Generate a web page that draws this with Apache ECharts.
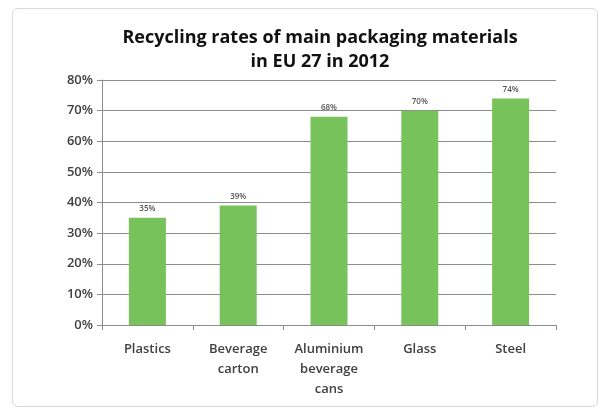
<!DOCTYPE html>
<html>
<head>
<meta charset="utf-8">
<script src="https://cdn.jsdelivr.net/npm/echarts@6/dist/echarts.min.js"></script>
<style>
  html, body { margin: 0; padding: 0; background: #fff; }
  #frame {
    position: absolute; left: 12px; top: 8px; width: 586px; height: 399px;
    border: 1px solid #d9d9d9; border-radius: 6px; box-sizing: border-box;
  }
  #chart { position: absolute; left: 0; top: 0; width: 611px; height: 412px; }
</style>
</head>
<body>
<div id="frame"></div>
<div id="chart"></div>
<script>
const materials = ['Plastics', 'Beverage\ncarton', 'Aluminium\nbeverage\ncans', 'Glass', 'Steel'];
const recyclingRates = [35, 39, 68, 70, 74];
const yTicks = [0, 10, 20, 30, 40, 50, 60, 70, 80];

const axisFont = 'Open Sans';
const option = {
  animation: false,
  title: {
    text: 'Recycling rates of main packaging materials\nin EU 27 in 2012',
    left: 315,
    textAlign: 'center',
    top: 21,
    textStyle: {
      fontFamily: axisFont,
      fontSize: 18,
      fontWeight: 'bold',
      color: '#111',
      lineHeight: 24,
    },
  },
  grid: {
    left: 102,
    right: 55,
    top: 80,
    bottom: 87,
  },
  xAxis: {
    type: 'category',
    data: materials,
    axisLine: { lineStyle: { color: '#8c8c8c' } },
    axisTick: { show: true, alignWithLabel: false, length: 5, lineStyle: { color: '#8c8c8c' } },
    axisLabel: {
      fontFamily: axisFont,
      fontSize: 13,
      fontWeight: 600,
      color: '#404040',
      lineHeight: 20,
      margin: 14,
    },
  },
  yAxis: {
    type: 'value',
    min: 0,
    max: 80,
    interval: 10,
    axisLine: { show: true, lineStyle: { color: '#8c8c8c' } },
    axisTick: { show: true, length: 5, lineStyle: { color: '#8c8c8c' } },
    splitLine: { show: true, lineStyle: { color: '#8c8c8c' } },
    axisLabel: {
      fontFamily: axisFont,
      fontSize: 13,
      fontWeight: 600,
      color: '#404040',
      margin: 9,
      formatter: (v) => (yTicks.includes(v) ? v + '%' : ''),
    },
  },
  series: [
    {
      type: 'bar',
      data: recyclingRates,
      barWidth: 37,
      itemStyle: { color: '#77c25a' },
      label: {
        show: true,
        position: 'top',
        distance: 5,
        fontFamily: axisFont,
        fontSize: 8,
        fontWeight: 600,
        color: '#555',
        formatter: '{c}%',
      },
    },
  ],
};

const chart = echarts.init(document.getElementById('chart'));
chart.setOption(option);
window.addEventListener('resize', () => {
  chart.resize();
});
</script>
</body>
</html>
